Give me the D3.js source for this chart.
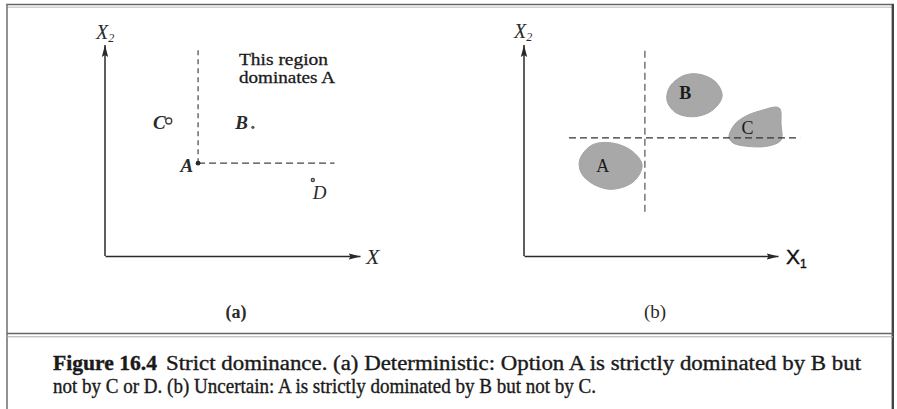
<!DOCTYPE html>
<html>
<head>
<meta charset="utf-8">
<script src="https://cdn.jsdelivr.net/npm/d3@7"></script>
<style>
  html, body { margin: 0; padding: 0; background: #fff; }
  svg { display: block; }
  .serif { font-family: "Liberation Serif", "DejaVu Serif", serif; }
</style>
</head>
<body>
<svg id="chart" width="897" height="409"></svg>
<script>
// ---------- data ----------
// Panel (a): deterministic options (axis units 0..10)
const pointNamesA = ["A", "B", "C", "D"];
const pointXA = [3.65, 5.8, 2.5, 8.15];
const pointYA = [4.4, 6.1, 6.4, 3.6];
// dashed boundary of region dominating A
const regionTopA = 9.75;
const regionRightA = 9.0;
const regionText = ["This region", "dominates A"];

// Panel (b): uncertain options, outlines of blobs
const blobNames = ["A", "B", "C"];
const blobAx = [2.20, 2.68, 3.46, 4.25, 4.65, 4.33, 3.46, 2.68, 2.24];
const blobAy = [4.59, 5.26, 5.36, 4.98, 4.31, 3.54, 3.16, 3.44, 3.97];
const blobBx = [5.75, 6.30, 6.93, 7.56, 7.80, 7.40, 6.69, 5.98, 5.63];
const blobBy = [8.04, 8.56, 8.61, 8.23, 7.56, 6.89, 6.60, 6.79, 7.37];
const blobCx = [8.07, 8.31, 8.82, 9.41, 9.92, 10.08, 10.12, 10.12, 9.61, 8.70, 8.23];
const blobCy = [5.64, 6.26, 6.68, 6.92, 7.06, 6.97, 6.26, 5.50, 5.21, 5.21, 5.36];
const blobLabelX = [3.10, 6.35, 8.80];
const blobLabelY = [4.00, 7.45, 5.80];
// dashed lines through A's corner
const crossXB = 4.76, crossYB = 5.6;
const crossXFrom = 1.77, crossXTo = 10.87;
const crossYFrom = 2.1, crossYTo = 9.75;

const panelLabels = ["(a)", "(b)"];
const captionBold = "Figure 16.4";
const captionLine1 = "Strict dominance. (a) Deterministic: Option A is strictly dominated by B but";
const captionLine2 = "not by C or D. (b) Uncertain: A is strictly dominated by B but not by C.";

// ---------- drawing ----------
const svg = d3.select("#chart");
const ink = "#2a2a2a";

// frame
const frame = svg.append("g");
frame.append("line").attr("x1", 6).attr("x2", 894).attr("y1", 4.5).attr("y2", 4.5).attr("stroke", "#666").attr("stroke-width", 1.6);
frame.append("line").attr("x1", 7).attr("x2", 893).attr("y1", 7.2).attr("y2", 7.2).attr("stroke", "#bbb").attr("stroke-width", 1);
frame.append("line").attr("x1", 7).attr("x2", 7).attr("y1", 4).attr("y2", 409).attr("stroke", "#777").attr("stroke-width", 1.6);
frame.append("line").attr("x1", 892.8).attr("x2", 892.8).attr("y1", 4).attr("y2", 409).attr("stroke", "#444").attr("stroke-width", 2.4);
frame.append("line").attr("x1", 7).attr("x2", 893).attr("y1", 333.5).attr("y2", 333.5).attr("stroke", "#666").attr("stroke-width", 1.6);
frame.append("line").attr("x1", 7).attr("x2", 893).attr("y1", 336.8).attr("y2", 336.8).attr("stroke", "#aaa").attr("stroke-width", 1);

// arrow marker
const defs = svg.append("defs");
defs.append("marker").attr("id", "arrow")
  .attr("viewBox", "0 0 12 8").attr("refX", 12).attr("refY", 4)
  .attr("markerWidth", 12).attr("markerHeight", 8)
  .attr("markerUnits", "userSpaceOnUse").attr("orient", "auto")
  .append("path").attr("d", "M0,0.8 L12,4 L0,7.2 L2,4 Z").attr("fill", ink);

function drawAxes(g, x, y) {
  const ax = g.append("g").attr("transform", `translate(0,${y(0)})`)
    .call(d3.axisBottom(x).ticks(0).tickSizeOuter(0));
  ax.select(".domain").attr("stroke", ink).attr("stroke-width", 1.5).attr("marker-end", "url(#arrow)");
  const ay = g.append("g").attr("transform", `translate(${x(0)},0)`)
    .call(d3.axisLeft(y).ticks(0).tickSizeOuter(0));
  ay.select(".domain").attr("d", `M0,${y(0)}V${y(10)}`)
    .attr("stroke", ink).attr("stroke-width", 1.5).attr("marker-end", "url(#arrow)");
}

// ---------- Panel (a) ----------
const xa = d3.scaleLinear().domain([0, 10]).range([105, 360]);
const ya = d3.scaleLinear().domain([0, 10]).range([256, 45]);
const ga = svg.append("g");
drawAxes(ga, xa, ya);

ga.append("text").attr("class", "serif").attr("x", 96).attr("y", 39)
  .attr("font-size", 20).attr("font-style", "italic").attr("fill", ink)
  .text("X").append("tspan").attr("font-size", 12).attr("dy", 3).text("2");
ga.append("text").attr("class", "serif").attr("x", 366).attr("y", 264)
  .attr("font-size", 22).attr("font-style", "italic").attr("fill", ink).text("X");

const iA = pointNamesA.indexOf("A");
const ax0 = xa(pointXA[iA]), ay0 = ya(pointYA[iA]);
ga.append("line").attr("x1", ax0).attr("x2", ax0).attr("y1", ay0).attr("y2", ya(regionTopA))
  .attr("stroke", "#444").attr("stroke-width", 1.2).attr("stroke-dasharray", "5,4");
ga.append("line").attr("x1", ax0).attr("x2", xa(regionRightA)).attr("y1", ay0).attr("y2", ay0)
  .attr("stroke", "#444").attr("stroke-width", 1.2).attr("stroke-dasharray", "7,4");

const regionW = [89, 96];
ga.selectAll("text.region").data(regionText).join("text").attr("class", "serif region")
  .attr("x", 239).attr("y", (d, i) => 65 + i * 18)
  .attr("font-size", 17).attr("fill", "#1a1a1a")
  .attr("stroke", "#1a1a1a").attr("stroke-width", 0.3)
  .attr("textLength", (d, i) => regionW[i]).attr("lengthAdjust", "spacingAndGlyphs")
  .text(d => d);

const markStyle = {
  A: { r: 2.4, fill: ink, dx: -5, dy: 9, anchor: "end" },
  B: { r: 1.6, fill: "#555", dx: -5, dy: 2, anchor: "end" },
  C: { r: 3.0, fill: "none", dx: -3, dy: 8, anchor: "end" },
  D: { r: 1.5, fill: "none", dx: 0, dy: 19, anchor: "start" }
};
pointNamesA.forEach((n, i) => {
  const s = markStyle[n];
  const px = xa(pointXA[i]), py = ya(pointYA[i]);
  ga.append("circle").attr("cx", px).attr("cy", py).attr("r", s.r)
    .attr("fill", s.fill).attr("stroke", s.fill === "none" ? "#444" : "none").attr("stroke-width", 1.4);
  ga.append("text").attr("class", "serif").attr("x", px + s.dx).attr("y", py + s.dy)
    .attr("text-anchor", s.anchor).attr("font-size", 19).attr("font-style", "italic")
    .attr("font-weight", n === "D" ? "normal" : "bold").attr("fill", ink).text(n);
});

ga.append("text").attr("class", "serif").attr("x", 236).attr("y", 318)
  .attr("text-anchor", "middle").attr("font-size", 18).attr("font-weight", "bold")
  .attr("fill", ink).text(panelLabels[0]);

// ---------- Panel (b) ----------
const xb = d3.scaleLinear().domain([0, 10]).range([524, 778]);
const yb = d3.scaleLinear().domain([0, 10]).range([256, 45]);
const gb = svg.append("g");

const blobs = [
  d3.zip(blobAx, blobAy),
  d3.zip(blobBx, blobBy),
  d3.zip(blobCx, blobCy)
];
const blobLine = d3.line().x(d => xb(d[0])).y(d => yb(d[1])).curve(d3.curveCatmullRomClosed.alpha(0.5));
gb.selectAll("path.blob").data(blobs).join("path").attr("class", "blob")
  .attr("d", blobLine).attr("fill", "#a8a8a8").attr("stroke", "#a3a3a3").attr("stroke-width", 1);

drawAxes(gb, xb, yb);

gb.append("line").attr("x1", xb(crossXB)).attr("x2", xb(crossXB)).attr("y1", yb(crossYFrom)).attr("y2", yb(crossYTo))
  .attr("stroke", "#444").attr("stroke-width", 1.1).attr("stroke-dasharray", "7,4");
gb.append("line").attr("x1", xb(crossXFrom)).attr("x2", xb(crossXTo)).attr("y1", yb(crossYB)).attr("y2", yb(crossYB))
  .attr("stroke", "#333").attr("stroke-width", 1.3).attr("stroke-dasharray", "7,4");

gb.selectAll("text.blabel").data(blobNames).join("text").attr("class", "serif blabel")
  .attr("x", (d, i) => xb(blobLabelX[i])).attr("y", (d, i) => yb(blobLabelY[i]))
  .attr("text-anchor", "middle").attr("font-size", 18)
  .attr("font-weight", d => d === "B" ? "bold" : "normal").attr("fill", "#1a1a1a").text(d => d);

gb.append("text").attr("class", "serif").attr("x", 514).attr("y", 38)
  .attr("font-size", 20).attr("font-style", "italic").attr("fill", ink)
  .text("X").append("tspan").attr("font-size", 12).attr("dy", 3).text("2");
gb.append("text").attr("x", 786).attr("y", 264)
  .attr("font-family", "Liberation Sans, Arial, sans-serif").attr("font-size", 21).attr("fill", "#111")
  .attr("stroke", "#111").attr("stroke-width", 0.4)
  .text("X").append("tspan").attr("font-size", 12).attr("dy", 4).text("1");

gb.append("text").attr("class", "serif").attr("x", 655).attr("y", 318)
  .attr("text-anchor", "middle").attr("font-size", 19).attr("fill", ink).text(panelLabels[1]);

// ---------- caption ----------
const cap = svg.append("g").attr("class", "serif").attr("fill", "#1a1a1a")
  .attr("stroke", "#1a1a1a").attr("stroke-width", 0.35);
cap.append("text").attr("x", 53).attr("y", 370).attr("font-size", 20).attr("font-weight", "bold")
  .attr("textLength", 104).attr("lengthAdjust", "spacingAndGlyphs").text(captionBold);
cap.append("text").attr("x", 166).attr("y", 370).attr("font-size", 20)
  .attr("textLength", 695).attr("lengthAdjust", "spacingAndGlyphs").text(captionLine1);
cap.append("text").attr("x", 53).attr("y", 393).attr("font-size", 20)
  .attr("textLength", 543).attr("lengthAdjust", "spacingAndGlyphs").text(captionLine2);
</script>
</body>
</html>
